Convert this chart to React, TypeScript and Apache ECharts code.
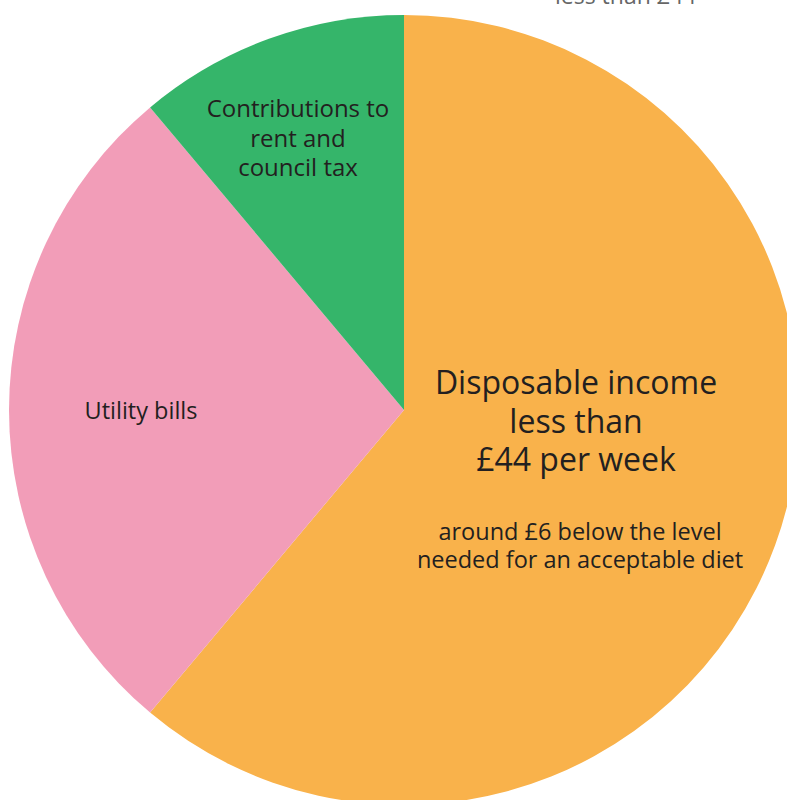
import React, { useEffect, useRef } from "react";
import * as echarts from "echarts";

const categories = ["Disposable income", "Utility bills", "Contributions to rent and council tax"];
const values = [44, 20, 8];
const colors = ["#F9B24B", "#F29DB8", "#35B56A"];
const mainLabel = ["Disposable income", "less than", "£44 per week"];
const subLabel = ["around £6 below the level", "needed for an acceptable diet"];
const utilityLabel = ["Utility bills"];
const rentLabel = ["Contributions to", "rent and", "council tax"];
const topTitle = "less than £44";

export default function App() {
  const ref = useRef<HTMLDivElement>(null);
  useEffect(() => {
    const chart = echarts.init(ref.current!, undefined, { renderer: "svg" });
    const font = "'Open Sans', Lato, sans-serif";
    chart.setOption({
      animation: false,
      backgroundColor: "#ffffff",
      series: [
        {
          type: "pie",
          center: [404, 410],
          radius: [0, 395],
          startAngle: 90,
          clockwise: true,
          label: { show: false },
          labelLine: { show: false },
          silent: true,
          z: 1,
          itemStyle: { borderWidth: 0 },
          data: categories.map((c, i) => ({ name: c, value: values[i], itemStyle: { color: colors[i] } })),
        },
      ],
      graphic: [
        {
          type: "text",
          x: 555,
          y: -17,
          z: 100,
          style: { text: topTitle, font: `23px ${font}`, fill: "#666666" },
        },
        {
          type: "text",
          x: 576,
          y: 420,
          z: 100,
          style: {
            text: mainLabel.join("\n"),
            font: `32px ${font}`,
            fill: "#231f20",
            align: "center",
            verticalAlign: "middle",
            lineHeight: 38.5,
          },
        },
        {
          type: "text",
          x: 580,
          y: 545,
          z: 100,
          style: {
            text: subLabel.join("\n"),
            font: `23.5px ${font}`,
            fill: "#231f20",
            align: "center",
            verticalAlign: "middle",
            lineHeight: 28,
          },
        },
        {
          type: "text",
          x: 141,
          y: 410,
          z: 100,
          style: {
            text: utilityLabel.join("\n"),
            font: `23.5px ${font}`,
            fill: "#231f20",
            align: "center",
            verticalAlign: "middle",
          },
        },
        {
          type: "text",
          x: 298,
          y: 137,
          z: 100,
          style: {
            text: rentLabel.join("\n"),
            font: `24px ${font}`,
            fill: "#231f20",
            align: "center",
            verticalAlign: "middle",
            lineHeight: 29.5,
          },
        },
      ],
    });
    return () => chart.dispose();
  }, []);
  return <div ref={ref} style={{ position: "fixed", left: 0, top: 0, width: 787, height: 800 }} />;
}
